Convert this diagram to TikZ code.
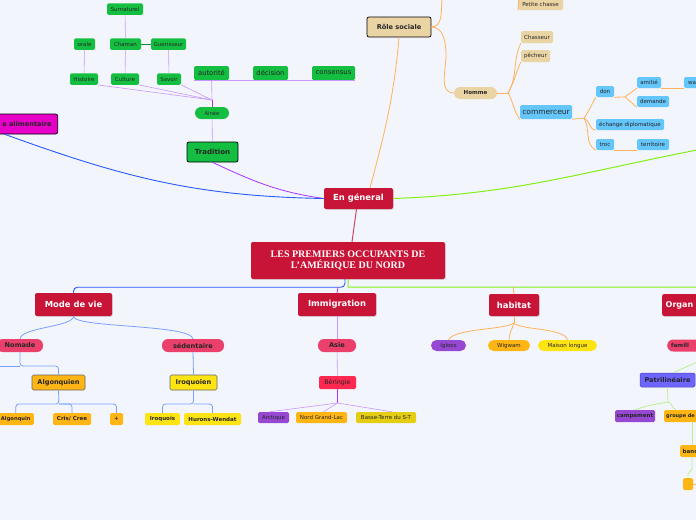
\documentclass[tikz,border=0pt]{standalone}
\usepackage{fontspec}
\setmainfont{DejaVu Sans}
\newfontfamily\titlefont{Liberation Serif}
\usetikzlibrary{shadows,calc}
\newcommand\myfs[1]{\fontsize{#1}{#1}\selectfont}
\definecolor{bgc}{RGB}{243,245,253}
\definecolor{crim}{RGB}{200,20,55}
\definecolor{mgreen}{RGB}{20,190,65}
\definecolor{tan}{RGB}{234,212,164}
\definecolor{sky}{RGB}{100,198,250}
\definecolor{pinkp}{RGB}{236,64,108}
\definecolor{berc}{RGB}{255,40,80}
\definecolor{orng}{RGB}{255,182,20}
\definecolor{yell}{RGB}{255,228,20}
\definecolor{purp}{RGB}{150,72,210}
\definecolor{magc}{RGB}{230,0,200}
\definecolor{patc}{RGB}{110,100,255}
\definecolor{lpur}{RGB}{200,150,255}
\definecolor{dpur}{RGB}{170,50,255}
\definecolor{bline}{RGB}{40,90,255}
\definecolor{gline}{RGB}{130,240,20}
\definecolor{oline}{RGB}{255,178,90}
\definecolor{lbline}{RGB}{120,160,255}
\definecolor{lgline}{RGB}{190,240,140}
\definecolor{rline}{RGB}{205,70,100}
\tikzset{
  base/.style={inner sep=0pt, rounded corners=1.5pt, text=black!85},
  leaf/.style={base, minimum height=11pt, font=\myfs{5.5}},
  bleaf/.style={base, minimum height=12pt, font=\bfseries\myfs{5.5}},
  gbox/.style={leaf, fill=mgreen, minimum height=11.5pt},
  gbig/.style={base, fill=mgreen, minimum height=14pt, font=\myfs{6.8}},
  pill/.style={bleaf, rounded corners=6pt},
  rbox/.style={base, fill=crim, text=white, font=\bfseries\myfs{8.4}, rounded corners=2pt,
     drop shadow={opacity=0.25,shadow xshift=0.8pt,shadow yshift=-0.8pt}},
  tanbox/.style={base, fill=tan, draw=black, line width=0.7pt, font=\bfseries\myfs{6.6}, rounded corners=2pt},
  tanleaf/.style={leaf, fill=tan},
  bluel/.style={leaf, fill=sky},
  lp/.style={draw=lpur, line width=0.6pt},
  pp/.style={draw=dpur, line width=0.8pt},
  bl/.style={draw=bline, line width=0.9pt},
  gl/.style={draw=gline, line width=1pt},
  ol/.style={draw=oline, line width=0.8pt},
  lb/.style={draw=lbline, line width=0.8pt},
  lg/.style={draw=lgline, line width=0.8pt},
}
\begin{document}
\begin{tikzpicture}[x=1pt,y=-1pt]
\fill[bgc] (0,0) rectangle (696,520);
\useasboundingbox (0,0) rectangle (696,520);
\clip (0,0) rectangle (696,520);

% ---------- top-left cluster ----------
\node[gbox, minimum width=36pt] (surn) at (125,9) {Surnaturel};
\node[gbox, minimum width=21pt] (orale) at (84.5,44) {orale};
\node[gbox, minimum width=31pt] (chaman) at (125.5,44) {Chaman};
\node[gbox, minimum width=35pt] (guer) at (168.5,44) {Guerisseur};
\node[gbox, minimum width=28pt] (hist) at (84,79) {Histoire};
\node[gbox, minimum width=28pt] (cult) at (125,79) {Culture};
\node[gbox, minimum width=24pt] (savoir) at (169,79) {Savoir};
\node[gbig, minimum width=35pt] (aut) at (211.5,73) {autorité};
\node[gbig, minimum width=35pt] (dec) at (270.5,73) {décision};
\node[gbig, minimum width=43pt] (cons) at (333.5,73) {consensus};
\node[pill, fill=mgreen, minimum width=34pt, minimum height=12pt, font=\myfs{5.3}] (ainee) at (212,113) {Ainée};
\node[base, fill=mgreen, draw=black, line width=0.7pt, rounded corners=2pt, minimum width=51pt, minimum height=20pt, font=\bfseries\myfs{7}] (trad) at (212.5,152) {Tradition};
\node[base, fill=magc, draw=black, line width=0.7pt, rounded corners=2pt, minimum height=20pt, text width=62pt, align=right, inner xsep=6pt, anchor=east, font=\bfseries\myfs{6.6}] (chaine) at (58,124) {e alimentaire};
\coordinate (cs) at (4,134);
\coordinate (J1) at (212,100);

\draw[lp] (surn) -- (chaman);
\draw[draw=mgreen!70!black, line width=0.6pt] (chaman) -- (guer);
\draw[lp] (chaman) -- (cult);
\draw[lp] (orale) -- (hist);
\draw[lp] (guer) -- (savoir);
\draw[lp] (hist.south east) -- (J1);
\draw[lp] (cult.south east) -- (J1);
\draw[lp] (savoir.south east) -- (J1);
\draw[lp] (aut.south west) -- (cons.south east);
\draw[lp] (aut.south) -- (J1);
\draw[pp] (J1) -- (ainee.north);
\draw[lp] (ainee) -- (trad);

% ---------- En general ----------
\node[rbox, minimum width=69pt, minimum height=21pt] (gen) at (358.5,198.5) {En géneral};
\draw[pp] (trad.south) to[out=-25,in=172] (gen.west);
\draw[bl] (cs) to[out=-20,in=179] (gen.west);
\coordinate (gr1) at (697,150);
\draw[gl] (gen.east) to[out=2,in=191] (gr1);

% ---------- Role sociale ----------
\node[tanbox, minimum width=64pt, minimum height=20pt] (role) at (399,27) {Rôle sociale};
\draw[ol] (role.south) to[out=-95,in=75] (gen.north -| 370,0);
\coordinate (rtop) at (442,-1);
\draw[ol] (role.east) to[out=0,in=-95] (rtop);
\node[pill, fill=tan, minimum width=43pt, minimum height=12pt] (homme) at (475.5,93) {Homme};
\draw[ol] (role.east) to[out=0,in=90] (446,55) to[out=-90,in=180] (homme.west);
\node[tanleaf, minimum width=45pt, minimum height=12pt] (pc) at (540.5,4) {Petite chasse};
\coordinate (pctop) at (519,-1);
\draw[ol] (pctop) -- (pc.south west);
\node[tanleaf, minimum width=32pt, minimum height=12pt] (chas) at (537,37) {Chasseur};
\node[tanleaf, minimum width=29pt, minimum height=12pt] (pech) at (535.5,56) {pêcheur};
\node[base, fill=sky, minimum width=52pt, minimum height=14pt, font=\myfs{7.5}] (comm) at (546,112) {commerceur};
\coordinate (J2) at (508,93);
\draw[ol] (homme.east) -- (J2);
\draw[ol] (J2) to[out=60,in=-115] (chas.south west);
\draw[ol] (J2) to[out=60,in=-115] (pech.south west);
\draw[ol] (J2) to[out=-60,in=125] (comm.south west);
\node[bluel, minimum width=18pt] (don) at (605,91.5) {don};
\node[bluel, minimum width=68pt] (ech) at (630,124.5) {échange diplomatique};
\node[bluel, minimum width=18pt] (troc) at (605,144.5) {troc};
\node[bluel, minimum width=24pt] (ami) at (649,82.5) {amitié};
\node[bluel, minimum width=32pt] (dem) at (653,101.5) {demande};
\node[bluel, minimum width=32pt] (terr) at (653,144.5) {territoire};
\node[bluel, anchor=west, text width=20pt, align=left, inner xsep=4pt] (wa) at (684,82.5) {wa};
\coordinate (J3) at (584,118);
\draw[ol] (comm.south east) -- (J3);
\draw[ol] (J3) to[out=55,in=-120] (don.south west);
\draw[ol] (J3) to[out=-20,in=180] (ech.south west);
\draw[ol] (J3) to[out=-60,in=150] (troc.south west);
\coordinate (J4) at (625,97);
\draw[ol] (don.south east) -- (J4);
\draw[ol] (J4) to[out=40,in=-140] (ami.south west);
\draw[ol] (J4) to[out=-40,in=140] (dem.south west);
\draw[ol] (ami.south east) -- (wa.south west);
\draw[ol] (troc.south east) -- (terr.south west);

% ---------- main ----------
\node[rbox, minimum width=194pt, minimum height=37pt, font=\titlefont\bfseries\myfs{10}, align=center] (main) at (348,260.5) {LES PREMIERS OCCUPANTS DE\\[1pt]L’AMÉRIQUE DU NORD};
\draw[draw=rline, line width=1pt] ($(gen.south)+(-2,0)$) -- ($(main.north)+(4,0)$);

\node[rbox, minimum width=77pt, minimum height=23pt] (mode) at (73.5,304.5) {Mode de vie};
\node[rbox, minimum width=78pt, minimum height=23pt] (immi) at (337,304.5) {Immigration};
\node[rbox, minimum width=50pt, minimum height=22pt] (hab) at (514,305) {habitat};
\node[rbox, anchor=west, minimum height=22pt, text width=50pt, align=left, inner xsep=3.5pt, font=\bfseries\myfs{8}] (org) at (662,305) {Organ};

\coordinate (gr2) at (697,287);
\draw[bl, rounded corners=4pt] ($(main.south)+(-3,0)$) -- ++(0,8) -| (mode.north);
\draw[gl] (main.south) -- ++(0,8) -- (gr2);
\draw[pp] ($(main.south)+(-10,8)$) to[out=-90,in=90] (immi.north);
\draw[ol] (513,287) -- (hab.north);

% ---------- Mode de vie ----------
\node[pill, fill=pinkp, minimum width=46pt, minimum height=13pt, font=\bfseries\myfs{6.6}] (nom) at (20,345.5) {Nomade};
\node[pill, fill=pinkp, minimum width=62pt, minimum height=13pt, font=\bfseries\myfs{6.6}] (sed) at (193,345.5) {sédentaire};
\draw[lb] (mode.south) .. controls (73,327) and (22,327) .. (nom.north);
\draw[lb] (mode.south) .. controls (73,328) and (190,324) .. (sed.north);
\node[base, fill=orng, draw=black!60, line width=0.6pt, minimum width=53pt, minimum height=15pt, font=\bfseries\myfs{6.6}] (algq) at (58.5,382.5) {Algonquien};
\node[base, fill=yell, draw=black!60, line width=0.6pt, minimum width=47pt, minimum height=15pt, font=\bfseries\myfs{6.6}] (iroq) at (193.5,382.5) {Iroquoien};
\coordinate (lft) at (-2,366);
\draw[lb, rounded corners=3pt] (nom.south) -- (20,366) -| (algq.north);
\draw[lb] (20,366) -- (lft);
\draw[lb] (sed.south) -- (iroq.north);
\node[bleaf, fill=orng, anchor=east, minimum width=36pt, inner xsep=1pt, font=\bfseries\myfs{5.2}] (algn) at (34,419) {Algonquin};
\node[bleaf, fill=orng, minimum width=38pt] (cris) at (72,419) {Cris/ Cree};
\node[bleaf, fill=orng, minimum width=13pt] (plus) at (116.5,419) {+};
\node[bleaf, fill=yell, minimum width=35pt] (iroqs) at (162.5,419) {Iroquois};
\node[bleaf, fill=yell, minimum width=57pt] (hur) at (212.5,419) {Hurons-Wendat};
\draw[lb, rounded corners=3pt] (algq.south) -- (59,404) -| (algn.north);
\draw[lb, rounded corners=3pt] (59,404) -| (cris.north);
\draw[lb, rounded corners=3pt] (59,404) -| (plus.north);
\draw[lb, rounded corners=3pt] (iroq.south) -- (193.5,404) -| (iroqs.north);
\draw[lb, rounded corners=3pt] (193.5,404) -| (hur.north);

% ---------- Immigration ----------
\node[pill, fill=pinkp, minimum width=38pt, minimum height=13pt, font=\bfseries\myfs{6.6}] (asie) at (337,345.5) {Asie};
\node[base, fill=berc, minimum width=37pt, minimum height=13pt, font=\myfs{6.3}] (ber) at (337.5,382.5) {Béringie};
\draw[lp] (immi) -- (asie);
\draw[lp] (asie) -- (ber);
\node[leaf, fill=purp, minimum width=31pt] (arct) at (273.5,417.5) {Arctique};
\node[leaf, fill=orng, minimum width=51pt] (ngl) at (321.5,417.5) {Nord Grand-Lac};
\node[leaf, fill=yell!90!black, minimum width=60pt] (bt) at (386,417.5) {Basse-Terre du S-T};
\coordinate (J5) at (337.5,403);
\draw[pp] (ber.south) -- (J5);
\draw[lp] (J5) -- ($(arct.north)+(-4,0)$);
\draw[lp] (J5) -- ($(ngl.north)+(2,0)$);
\draw[lp] (J5) -- ($(bt.north)+(6,0)$);

% ---------- habitat ----------
\node[leaf, rounded corners=5.5pt, fill=purp, minimum width=35pt] (igl) at (448.5,345.5) {Igloos};
\node[leaf, rounded corners=5.5pt, fill=orng, minimum width=42pt] (wig) at (509,345.5) {Wigwam};
\node[leaf, rounded corners=5.5pt, fill=yell, minimum width=59pt] (mai) at (567.5,345.5) {Maison longue};
\coordinate (J6) at (514,323);
\draw[ol] (hab.south) -- (J6);
\draw[ol] (J6) .. controls (505,330) and (455,328) .. (igl.north);
\draw[ol] (J6) .. controls (512,330) and (509,333) .. (wig.north);
\draw[ol] (J6) .. controls (520,330) and (565,328) .. (mai.north);

% ---------- Organisation ----------
\node[pill, fill=pinkp, anchor=west, minimum height=12pt, text width=30pt, align=left, inner xsep=4pt, font=\bfseries\myfs{5.6}] (fam) at (667,345.5) {famill};
\node[base, fill=patc, draw=patc!70!black, line width=0.5pt, minimum width=55pt, minimum height=14pt, font=\bfseries\myfs{6.6}] (patri) at (667.5,380) {Patrilinéaire};
\coordinate (gr3) at (697,362);
\draw[lg] (gr3) -- ($(patri.north east)+(-22,0)$);
\node[bleaf, fill=purp, minimum width=40pt] (camp) at (635,416) {campement};
\node[bleaf, fill=orng, anchor=west, text width=36pt, align=left, inner xsep=2pt, font=\bfseries\myfs{5}] (grp) at (664,416) {groupe de};
\node[bleaf, fill=orng, anchor=west, text width=20pt, align=left, inner xsep=2.5pt] (banc) at (680,451) {banc};
\node[base, fill=orng, minimum width=10pt, minimum height=12pt] (sq) at (688,484) {};
\coordinate (J7) at (668,402);
\draw[lg] (patri.south) -- (J7);
\draw[lg] (J7) to[out=190,in=20] (camp.north);
\draw[lg] (J7) to[out=-10,in=160] ($(grp.north west)+(12,0)$);
\draw[lg] (692,422) -- (692,445);
\draw[lg, rounded corners=2pt] (692,457) -- (692,471) -- (688,472) -- (sq.north);
\coordinate (sqr) at (697,485);
\draw[ol] (sq.east) -- (sqr);
\end{tikzpicture}
\end{document}
